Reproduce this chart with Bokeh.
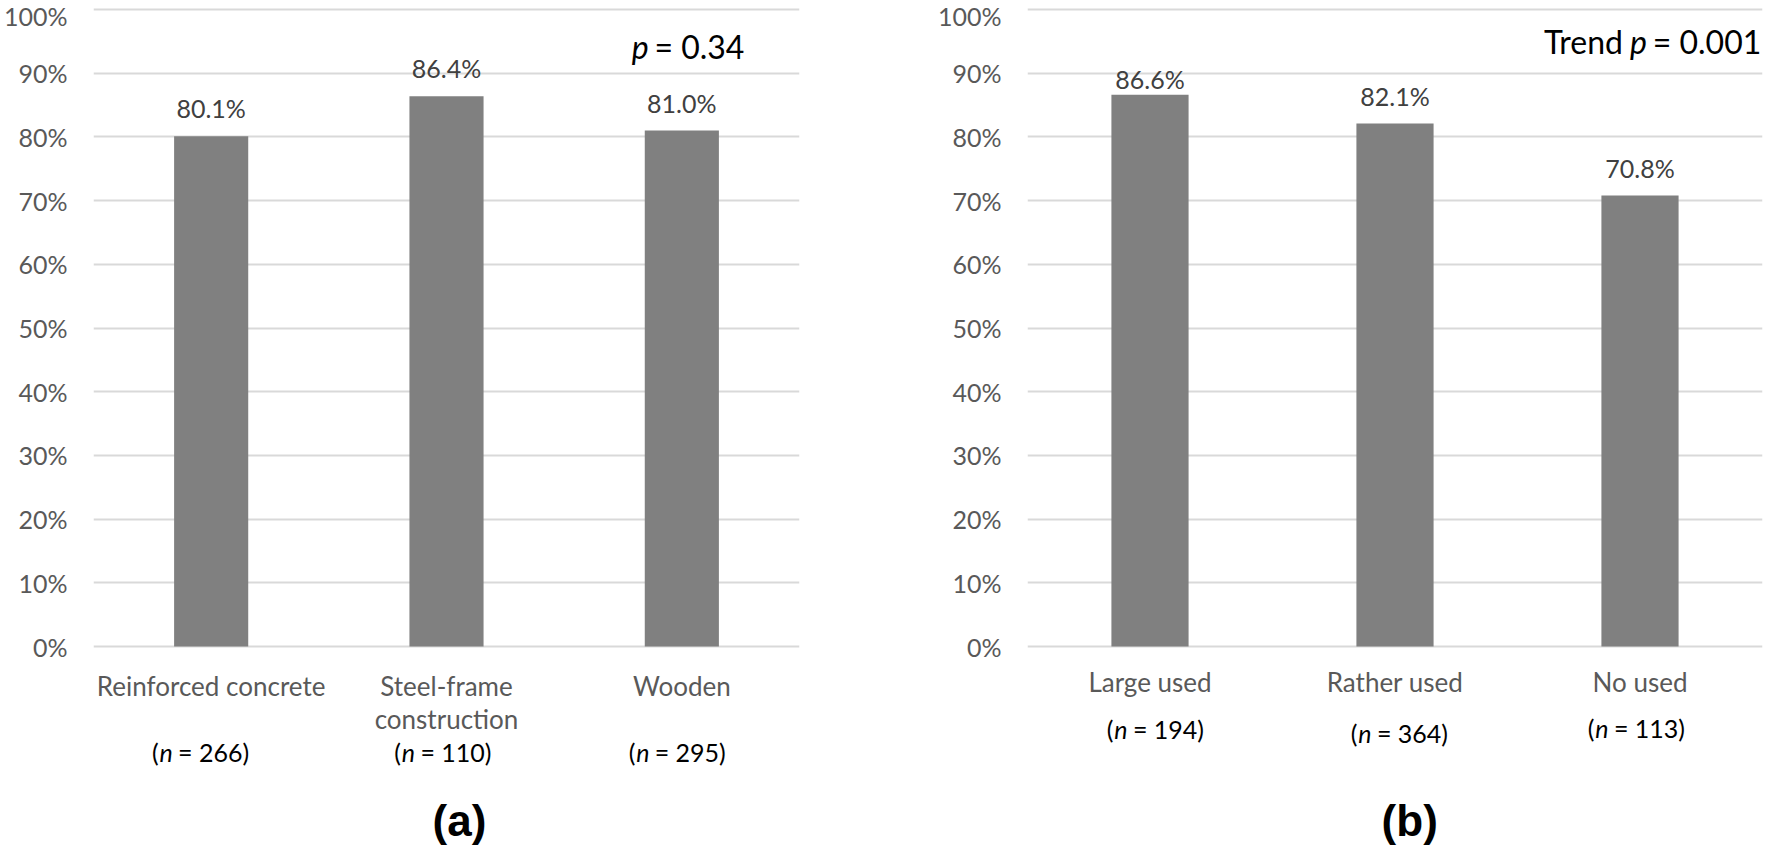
from bokeh.plotting import figure
from bokeh.models import Range1d, FixedTicker, PrintfTickFormatter, Label, LabelSet, ColumnDataSource
from bokeh.layouts import row
from bokeh.embed import file_html
from bokeh.resources import INLINE
from bokeh.core.properties import value

# ---------------- data ----------------
left_categories = ["Reinforced concrete", "Steel-frame\nconstruction", "Wooden"]
left_values = [80.1, 86.4, 81.0]
left_n = [266, 110, 295]
left_p = "0.34"
left_tag = "(a)"

right_categories = ["Large used", "Rather used", "No used"]
right_values = [86.6, 82.1, 70.8]
right_n = [194, 364, 113]
right_p = "0.001"
right_tag = "(b)"

y_ticks = [0, 10, 20, 30, 40, 50, 60, 70, 80, 90, 100]

# ---------------- style / layout ----------------
FONT = "Lato"
FRAME_H = 846
PX_TOP100 = 9      # canvas y of the 100% line
PX_ZERO = 646      # canvas y of the 0% line
PPU = (PX_ZERO - PX_TOP100) / 100.0
Y1 = 100 + PX_TOP100 / PPU
Y0 = -(FRAME_H - PX_ZERO) / PPU

LW = {' ': 386, '(': 600, ')': 600, '=': 1160, '.': 452, 'n': 1100, 'p': 1110,
      'T': 1222, 'r': 788, 'e': 1060, 'd': 1138}


def tw(s, size):
    return sum(LW.get(c, 1160) for c in s) / 2000.0 * size


def ydata(cy):
    return Y1 - cy / PPU


def make_panel(cats, vals, ns, pval, tag, left, frame_w, right, cat_y, cat_y2, n_y,
               n_dx, val_off, p_x, p_y, tag_x, trend):
    p = figure(frame_width=frame_w, frame_height=FRAME_H, output_backend="svg", toolbar_location=None,
               x_range=Range1d(0, len(cats)), y_range=Range1d(Y0, Y1),
               min_border_left=left, min_border_right=right,
               min_border_top=0, min_border_bottom=0)
    p.outline_line_color = None
    p.background_fill_color = "white"
    p.border_fill_color = "white"
    p.xaxis.visible = False
    p.xgrid.visible = False
    p.ygrid.ticker = FixedTicker(ticks=y_ticks)
    p.ygrid.grid_line_color = "#d9d9d9"
    p.ygrid.grid_line_width = 2
    ax = p.yaxis[0]
    ax.ticker = FixedTicker(ticks=y_ticks)
    ax.formatter = PrintfTickFormatter(format="%d%%")
    ax.axis_line_color = None
    ax.major_tick_line_color = None
    ax.minor_tick_line_color = None
    ax.major_tick_out = 0
    ax.major_tick_in = 0
    ax.minor_tick_out = 0
    ax.minor_tick_in = 0
    ax.axis_label_standoff = 0
    ax.major_label_standoff = 26
    ax.major_label_text_font = FONT
    ax.major_label_text_font_size = "25px"
    ax.major_label_text_color = "#595959"

    xs = [i + 0.5 for i in range(len(cats))]
    src = ColumnDataSource(dict(x=xs, top=vals, text=["%.1f%%" % v for v in vals], off=val_off))
    p.vbar(x="x", top="top", bottom=0, width=0.315, source=src, fill_color="#808080", line_color=None)
    p.add_layout(LabelSet(x="x", y="top", text="text", y_offset="off", source=src,
                          text_align="center", text_baseline="middle",
                          text_font=value(FONT), text_font_size=value("25px"), text_color="#404040"))

    for i, c in enumerate(cats):
        lines = c.split("\n")
        ys = [cat_y, cat_y2]
        for j, ln in enumerate(lines):
            p.add_layout(Label(x=xs[i], y=ydata(ys[j]), text=ln, text_align="center",
                               text_baseline="middle", text_font=FONT, text_font_size="26px",
                               text_color="#595959"))
        # (n = N) with italic n
        fs = 25
        rest = "= %d)" % ns[i]
        w1, w2, ws, w3 = tw("(", fs), tw("n", fs), tw(" ", fs), tw(rest, fs)
        W = w1 + w2 + ws + w3
        x0 = -W / 2 + n_dx[i]
        yy = ydata(n_y[i])
        for txt, off, style in (("(", x0, "normal"), ("n", x0 + w1, "italic"),
                                (rest, x0 + w1 + w2 + ws, "normal")):
            p.add_layout(Label(x=xs[i], y=yy, x_offset=off, text=txt, text_align="left",
                               text_baseline="middle", text_font=FONT, text_font_size="25px",
                               text_font_style=style, text_color="black"))

    # p-value annotation
    fs = 32
    rest = "= " + pval
    yy = ydata(p_y)
    wr = tw(rest, fs) + tw(" ", fs) + 2
    p.add_layout(Label(x=p_x, y=yy, text=rest, text_align="right", text_baseline="middle",
                       text_font=FONT, text_font_size="32px", text_color="black"))
    p.add_layout(Label(x=p_x, y=yy, x_offset=-wr, text="p", text_align="right", text_baseline="middle",
                       text_font=FONT, text_font_size="32px", text_font_style="italic", text_color="black"))
    if trend:
        wp = wr + tw("p", fs) + tw(" ", fs)
        p.add_layout(Label(x=p_x, y=yy, x_offset=-wp, text="Trend", text_align="right",
                           text_baseline="middle", text_font=FONT, text_font_size="32px",
                           text_color="black"))

    p.add_layout(Label(x=tag_x, y=ydata(820), text=tag, text_align="center", text_baseline="middle",
                       text_font="Liberation Sans", text_font_size="44px", text_font_style="bold",
                       text_color="black"))
    return p


p1 = make_panel(left_categories, left_values, left_n, left_p, left_tag,
                left=86, frame_w=706, right=125, cat_y=685, cat_y2=718, n_y=[751, 751, 751],
                n_dx=[-11, -4, -5], val_off=[28, 28, 28], p_x=2.766, p_y=46, tag_x=1.555, trend=False)
p2 = make_panel(right_categories, right_values, right_n, right_p, right_tag,
                left=103, frame_w=735, right=2, cat_y=681, cat_y2=714, n_y=[728, 732, 727],
                n_dx=[5, 4, -4], val_off=[16, 28, 28], p_x=2.995, p_y=41, tag_x=1.56, trend=True)

layout = row(p1, p2)
open("out.html", "w").write(file_html(layout, INLINE))
